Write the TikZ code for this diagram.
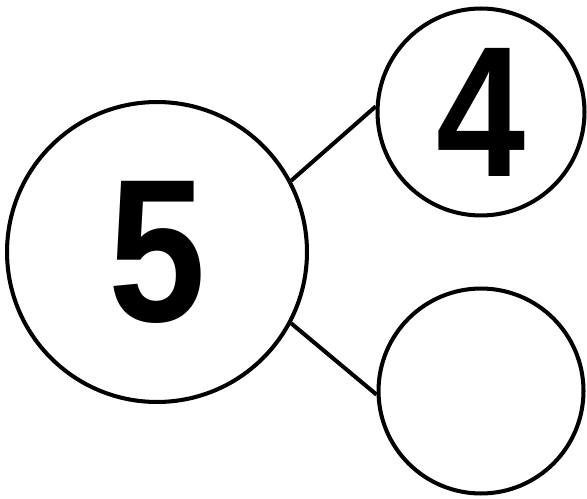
\documentclass[tikz,border=0pt]{standalone}
\usepackage{fontspec}
\setmainfont{Liberation Sans}
\newfontfamily\digitfont[FakeStretch=0.86]{Liberation Sans}
\begin{document}
\begin{tikzpicture}[x=0.02cm, y=-0.02cm,
          ring/.style={circle, draw=black, line width=2.3pt, inner sep=0, font=\digitfont\bfseries},
          bond/.style={line width=2.3pt}
        ]
        \useasboundingbox (0,0) rectangle (587,499);

        % ---- whole ----
        \node[ring, minimum size=6cm, font=\digitfont\bfseries\fontsize{116}{116}\selectfont] (whole) at (157,252) {5};

        % ---- parts ----
        \node[ring, minimum size=4.14cm, font=\digitfont\bfseries\fontsize{106}{106}\selectfont] (partA) at (481,112) {4};
        \node[ring, minimum size=4.1cm] (partB) at (481,391) {};

        % ---- links ----
        \draw[bond] (whole.28) -- (partA.177);
        \draw[bond] (whole.-28) -- (partB.182);
      \end{tikzpicture}
\end{document}
